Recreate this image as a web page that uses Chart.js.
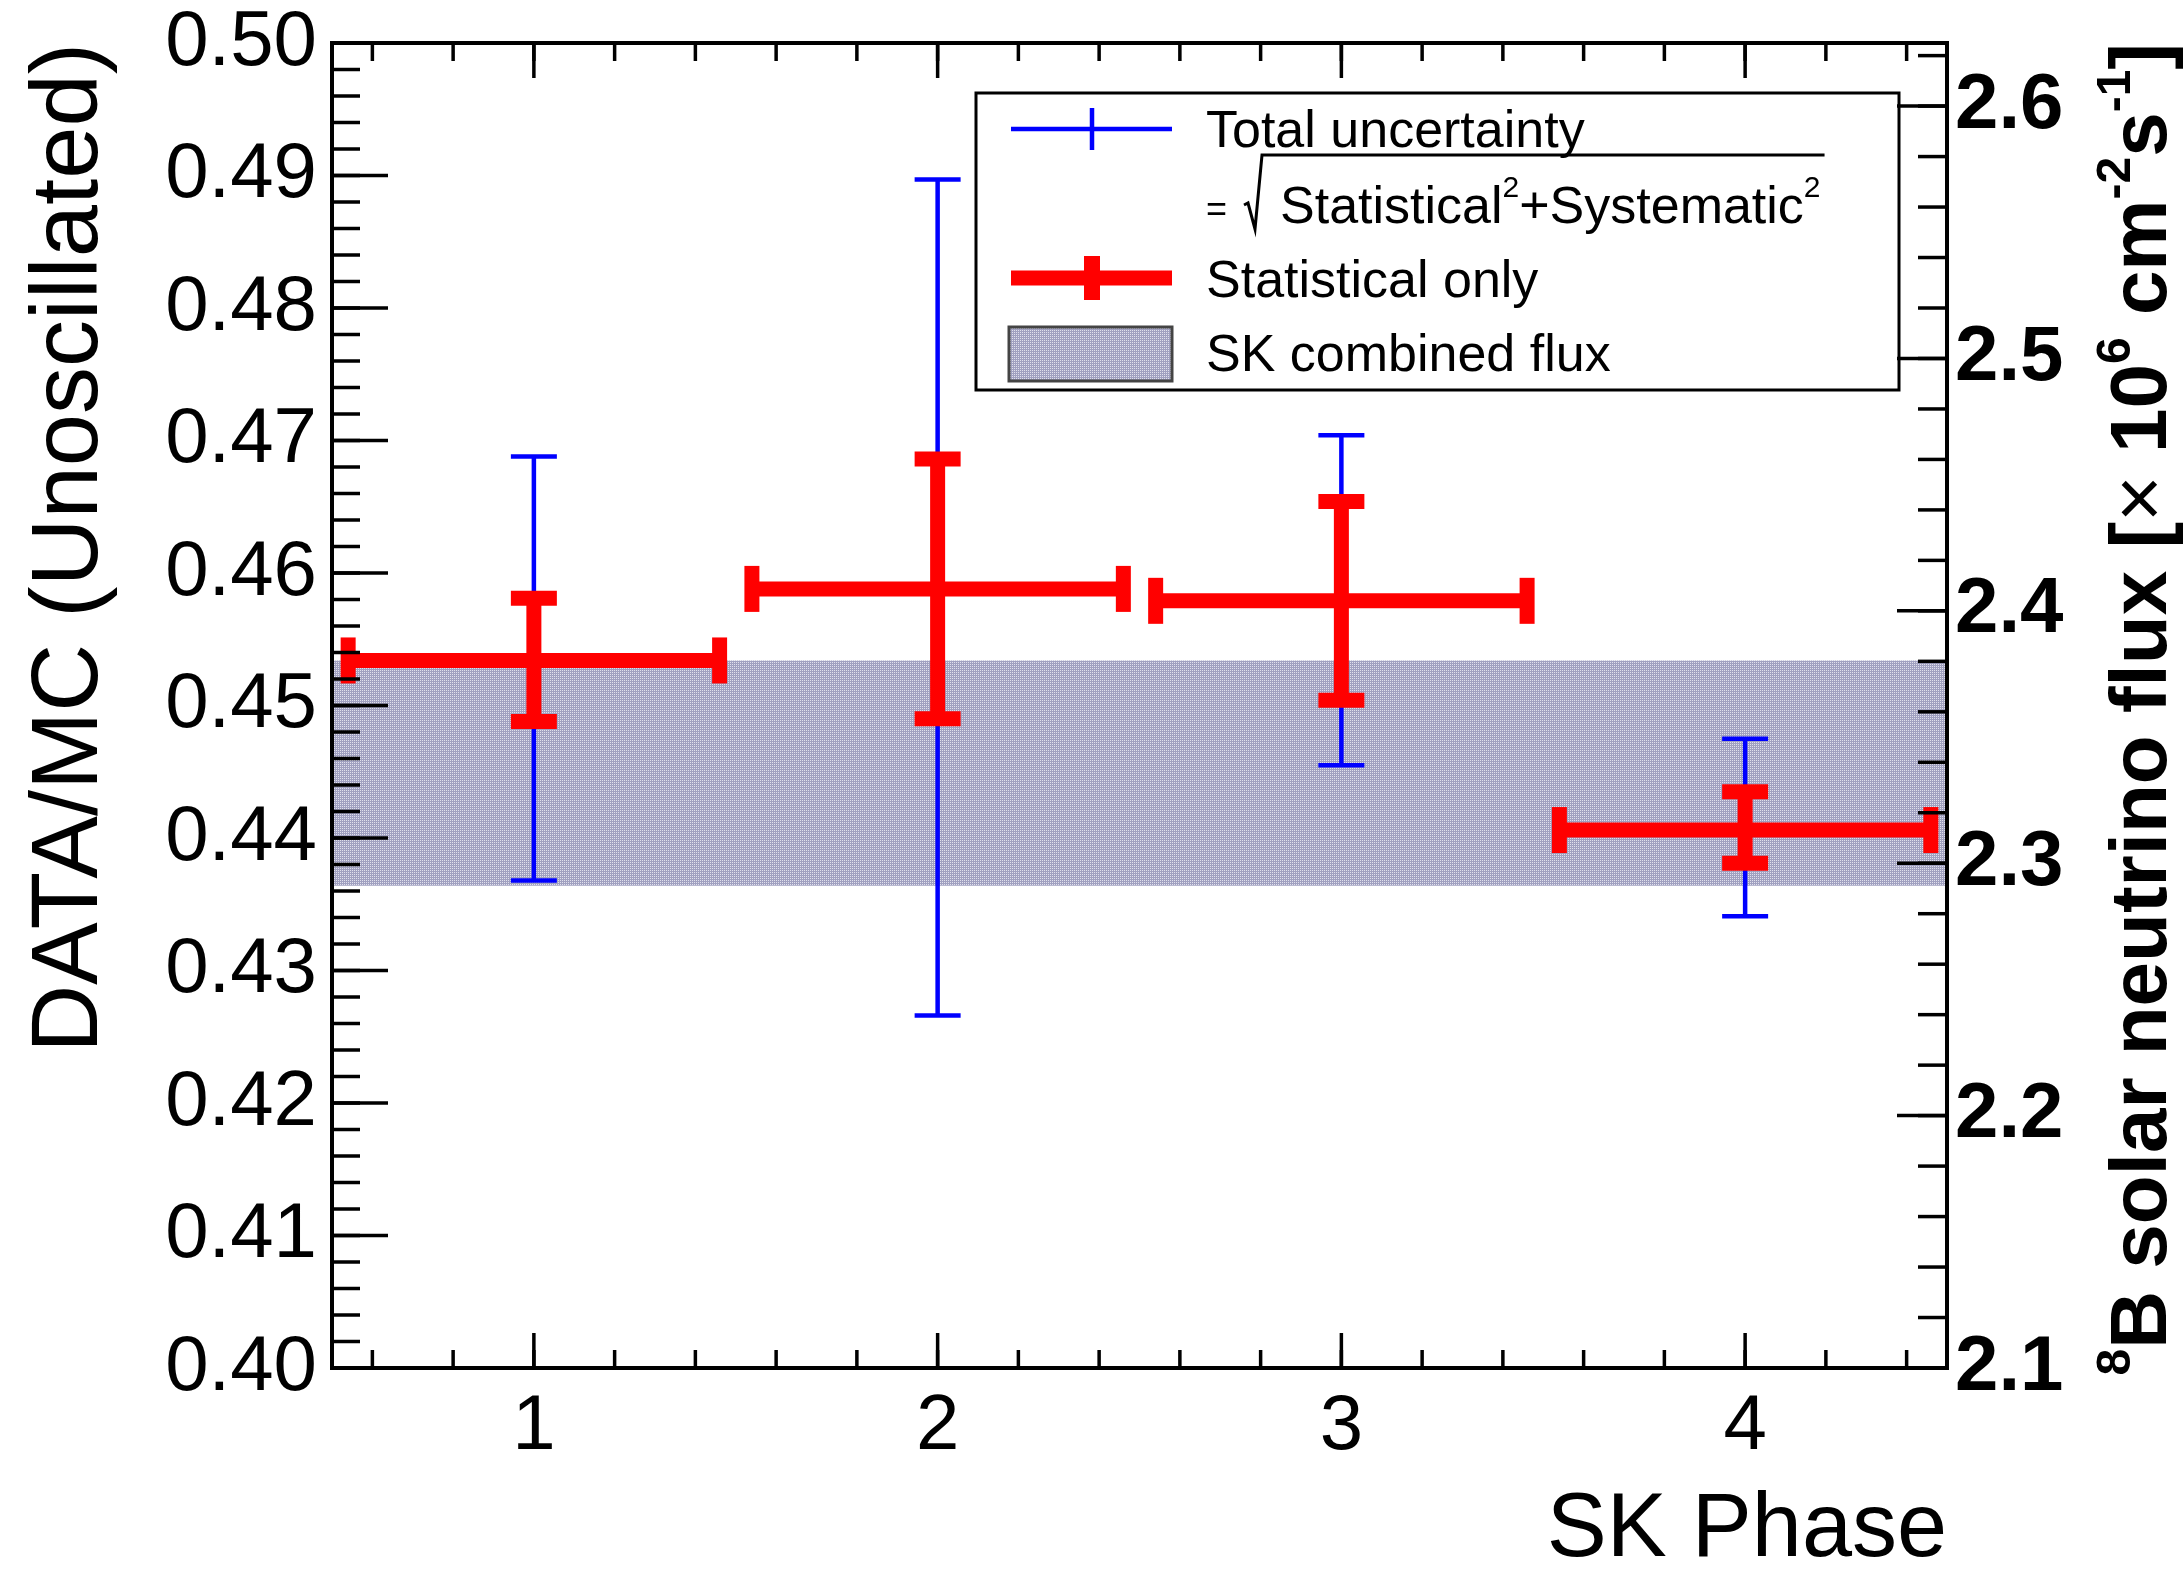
<!DOCTYPE html>
<html>
<head>
<meta charset="utf-8">
<script src="https://cdn.jsdelivr.net/npm/chart.js@4.4.0/dist/chart.umd.min.js"></script>
<style>
  html, body { margin: 0; padding: 0; background: #fff; }
</style>
</head>
<body>
<canvas id="skChart" width="2183" height="1576"></canvas>
<script>
// SK phases and DATA/MC (unoscillated) ratio
const phases = [1, 2, 3, 4];
const ratio = [0.4534, 0.4588, 0.4579, 0.4406];
const statUp = [0.4581, 0.4686, 0.4654, 0.4435];
const statLo = [0.4488, 0.4490, 0.4504, 0.4381];
const totUp = [0.4688, 0.4897, 0.4704, 0.4475];
const totLo = [0.4368, 0.4266, 0.4455, 0.4341];
const phaseHalfWidth = [0.46, 0.46, 0.46, 0.46];

// SK combined flux band
const bandX = [0.5, 4.5];
const bandHi = [0.4534, 0.4534];
const bandLo = [0.4364, 0.4364];

// axes
const xTicks = [1, 2, 3, 4];
const yTicks = [0.40, 0.41, 0.42, 0.43, 0.44, 0.45, 0.46, 0.47, 0.48, 0.49, 0.50];
const fluxTicks = [2.1, 2.2, 2.3, 2.4, 2.5, 2.6];
const unoscFlux = 5.25; // flux = ratio x 5.25 (x10^6 cm^-2 s^-1)

const FONT = '"Liberation Sans", Arial, Helvetica, sans-serif';
Chart.defaults.font.family = FONT;
Chart.defaults.color = '#000';

// dotted grey-blue fill like ROOT's pattern
function makePattern() {
  const c = document.createElement('canvas');
  c.width = 4; c.height = 4;
  const g = c.getContext('2d');
  g.fillStyle = 'rgb(160,160,192)';
  g.fillRect(0, 0, 4, 4);
  g.fillStyle = 'rgb(224,224,236)';
  g.fillRect(0, 0, 1, 1);
  g.fillRect(2, 2, 1, 1);
  g.fillRect(2, 0, 1, 1);
  g.fillRect(0, 2, 1, 1);
  return g.createPattern(c, 'repeat');
}
const bandPattern = makePattern();

function ticksBetween(lo, hi, step) {
  const out = [];
  const n = Math.round((hi - lo) / step);
  for (let k = 0; k <= n; k++) out.push(lo + k * step);
  return out;
}

function seg(ctx, x1, y1, x2, y2) {
  ctx.beginPath();
  ctx.moveTo(x1, y1);
  ctx.lineTo(x2, y2);
  ctx.stroke();
}

// error bars, drawn through the chart scales
const errorBars = {
  id: 'errorBars',
  afterDatasetsDraw(chart) {
    const { ctx, scales: { x, y } } = chart;
    ctx.save();
    ctx.lineCap = 'butt';
    // total uncertainty
    ctx.strokeStyle = '#0000ff';
    ctx.lineWidth = 4.5;
    phases.forEach((p, i) => {
      const px = x.getPixelForValue(p);
      const t = y.getPixelForValue(totUp[i]);
      const b = y.getPixelForValue(totLo[i]);
      seg(ctx, px, t, px, b);
      seg(ctx, px - 23, t, px + 23, t);
      seg(ctx, px - 23, b, px + 23, b);
    });
    // statistical only
    ctx.strokeStyle = '#ff0000';
    ctx.lineWidth = 15;
    phases.forEach((p, i) => {
      const px = x.getPixelForValue(p);
      const py = y.getPixelForValue(ratio[i]);
      const l = x.getPixelForValue(p - phaseHalfWidth[i]);
      const r = x.getPixelForValue(p + phaseHalfWidth[i]);
      const t = y.getPixelForValue(statUp[i]);
      const b = y.getPixelForValue(statLo[i]);
      seg(ctx, l, py, r, py);
      seg(ctx, px, t, px, b);
      seg(ctx, px - 23, t, px + 23, t);
      seg(ctx, px - 23, b, px + 23, b);
      seg(ctx, l, py - 23, l, py + 23);
      seg(ctx, r, py - 23, r, py + 23);
    });
    ctx.restore();
  }
};

// legend, frame with inward ticks, right-hand title
const decorations = {
  id: 'decorations',
  afterDraw(chart) {
    const { ctx, chartArea: a, scales: { x, y, y2 } } = chart;
    ctx.save();

    // legend box
    const lx = a.left + 644, ly = a.top + 50, lw = 923, lh = 297;
    ctx.fillStyle = '#fff';
    ctx.fillRect(lx, ly, lw, lh);
    ctx.strokeStyle = '#000';
    ctx.lineWidth = 3;
    ctx.strokeRect(lx, ly, lw, lh);

    const mx = lx + 116, x0 = lx + 35, x1 = lx + 196, tx = lx + 230;
    ctx.strokeStyle = '#0000ff';
    ctx.lineWidth = 4.5;
    seg(ctx, x0, ly + 36, x1, ly + 36);
    seg(ctx, mx, ly + 15, mx, ly + 57);
    ctx.strokeStyle = '#ff0000';
    ctx.lineWidth = 15;
    seg(ctx, x0, ly + 185, x1, ly + 185);
    ctx.lineWidth = 16;
    seg(ctx, mx, ly + 163, mx, ly + 207);
    ctx.fillStyle = bandPattern;
    ctx.fillRect(x0 - 2, ly + 234, 163, 54);
    ctx.strokeStyle = '#444';
    ctx.lineWidth = 3;
    ctx.strokeRect(x0 - 2, ly + 234, 163, 54);

    ctx.fillStyle = '#000';
    ctx.textBaseline = 'alphabetic';
    ctx.textAlign = 'left';
    ctx.font = '52px ' + FONT;
    ctx.fillText('Total uncertainty', tx, ly + 54);
    ctx.fillText('Statistical only', tx, ly + 204);
    ctx.fillText('SK combined flux', tx, ly + 278);

    // = sqrt(Statistical^2 + Systematic^2)
    const b2 = ly + 130;
    ctx.font = '36px ' + FONT;
    ctx.fillText('=', tx, b2 - 2);
    const rx = tx + 38;
    ctx.strokeStyle = '#000';
    ctx.lineWidth = 3;
    ctx.beginPath();
    ctx.moveTo(rx, b2 - 18);
    ctx.lineTo(rx + 4, b2 - 20);
    ctx.lineTo(rx + 11, b2 + 6);
    ctx.lineTo(rx + 18, b2 - 68);
    let cx = rx + 36;
    ctx.font = '52px ' + FONT;
    ctx.fillText('Statistical', cx, b2);
    cx += ctx.measureText('Statistical').width;
    ctx.font = '30px ' + FONT;
    ctx.fillText('2', cx, b2 - 26);
    cx += ctx.measureText('2').width;
    ctx.font = '52px ' + FONT;
    ctx.fillText('+Systematic', cx, b2);
    cx += ctx.measureText('+Systematic').width;
    ctx.font = '30px ' + FONT;
    ctx.fillText('2', cx, b2 - 26);
    cx += ctx.measureText('2').width;
    ctx.lineTo(cx + 4, b2 - 68);
    ctx.stroke();

    // frame
    ctx.strokeStyle = '#000';
    ctx.lineWidth = 4;
    ctx.strokeRect(a.left, a.top, a.right - a.left, a.bottom - a.top);

    // inward ticks
    ctx.lineWidth = 3.5;
    ticksBetween(0.40, 0.50, 0.002).forEach(v => {
      const py = y.getPixelForValue(v);
      seg(ctx, a.left, py, a.left + 28, py);
    });
    yTicks.forEach(v => {
      const py = y.getPixelForValue(v);
      seg(ctx, a.left, py, a.left + 56, py);
    });
    ticksBetween(0.6, 4.4, 0.2).forEach(v => {
      const px = x.getPixelForValue(v);
      seg(ctx, px, a.bottom, px, a.bottom - 18);
      seg(ctx, px, a.top, px, a.top + 18);
    });
    xTicks.forEach(v => {
      const px = x.getPixelForValue(v);
      seg(ctx, px, a.bottom, px, a.bottom - 35);
      seg(ctx, px, a.top, px, a.top + 35);
    });
    ticksBetween(2.1, 2.62, 0.02).forEach(v => {
      const py = y2.getPixelForValue(v);
      seg(ctx, a.right, py, a.right - 29, py);
    });
    fluxTicks.forEach(v => {
      const py = y2.getPixelForValue(v);
      seg(ctx, a.right, py, a.right - 50, py);
    });

    // right axis title, reading bottom to top, aligned to the top end
    const parts = [
      { t: '8', sup: true }, { t: 'B solar neutrino flux [' }, { t: '\u00d7', thin: true },
      { t: ' 10' }, { t: '6', sup: true }, { t: ' cm' }, { t: '-2', sup: true },
      { t: 's' }, { t: '-1', sup: true }, { t: ']' }
    ];
    const fontOf = p => p.sup ? 'bold 48px ' + FONT : (p.thin ? '80px ' + FONT : 'bold 80px ' + FONT);
    let total = 0;
    parts.forEach(p => { ctx.font = fontOf(p); total += ctx.measureText(p.t).width; });
    ctx.translate(y2.right - 17, a.top + total);
    ctx.rotate(-Math.PI / 2);
    ctx.fillStyle = '#000';
    let pos = 0;
    parts.forEach(p => {
      ctx.font = fontOf(p);
      ctx.fillText(p.t, pos, p.sup ? -36 : 0);
      pos += ctx.measureText(p.t).width;
    });
    ctx.restore();
  }
};

new Chart(document.getElementById('skChart'), {
  type: 'scatter',
  data: {
    datasets: [
      {
        label: 'SK combined flux',
        data: bandX.map((v, i) => ({ x: v, y: bandHi[i] })),
        showLine: true,
        pointRadius: 0,
        borderWidth: 0,
        borderColor: 'rgba(0,0,0,0)',
        backgroundColor: bandPattern,
        fill: '+1'
      },
      {
        label: 'band low',
        data: bandX.map((v, i) => ({ x: v, y: bandLo[i] })),
        showLine: true,
        pointRadius: 0,
        borderWidth: 0,
        borderColor: 'rgba(0,0,0,0)',
        fill: false
      },
      {
        label: 'Statistical only',
        data: phases.map((p, i) => ({ x: p, y: ratio[i] })),
        pointRadius: 0,
        showLine: false
      }
    ]
  },
  options: {
    responsive: false,
    animation: false,
    devicePixelRatio: 1,
    layout: { padding: { top: 43, left: 0, right: 0, bottom: 0 } },
    plugins: { legend: { display: false }, tooltip: { enabled: false } },
    scales: {
      x: {
        type: 'linear',
        position: 'bottom',
        min: 0.5,
        max: 4.5,
        grid: { display: false, drawTicks: false },
        border: { display: false },
        afterBuildTicks: s => { s.ticks = xTicks.map(v => ({ value: v })); },
        ticks: {
          font: { size: 78, lineHeight: 1 },
          color: '#000',
          padding: 20,
          autoSkip: false,
          maxRotation: 0,
          callback: v => String(v)
        },
        title: {
          display: true,
          text: 'SK Phase',
          align: 'end',
          color: '#000',
          font: { size: 90, lineHeight: 1 },
          padding: 0
        },
        afterFit: s => { s.height = 208; s.paddingLeft = 0; s.paddingRight = 0; }
      },
      y: {
        type: 'linear',
        position: 'left',
        min: 0.40,
        max: 0.50,
        grid: { display: false, drawTicks: false },
        border: { display: false },
        afterBuildTicks: s => { s.ticks = yTicks.map(v => ({ value: v })); },
        ticks: {
          font: { size: 78, lineHeight: 1 },
          color: '#000',
          padding: 15,
          autoSkip: false,
          callback: v => v.toFixed(2)
        },
        title: {
          display: true,
          text: 'DATA/MC (Unoscillated)',
          align: 'end',
          color: '#000',
          font: { size: 94, lineHeight: 1 },
          padding: { top: 24, bottom: 0 }
        },
        afterFit: s => { s.width = 332; s.paddingTop = 0; s.paddingBottom = 0; }
      },
      y2: {
        type: 'linear',
        position: 'right',
        min: 0.40 * unoscFlux,
        max: 0.50 * unoscFlux,
        grid: { display: false, drawTicks: false },
        border: { display: false },
        afterBuildTicks: s => { s.ticks = fluxTicks.map(v => ({ value: v })); },
        ticks: {
          font: { size: 78, weight: 'bold', lineHeight: 1 },
          color: '#000',
          padding: 8,
          autoSkip: false,
          callback: v => v.toFixed(1)
        },
        afterFit: s => { s.width = 236; s.paddingTop = 0; s.paddingBottom = 0; }
      }
    }
  },
  plugins: [errorBars, decorations]
});
</script>
</body>
</html>
